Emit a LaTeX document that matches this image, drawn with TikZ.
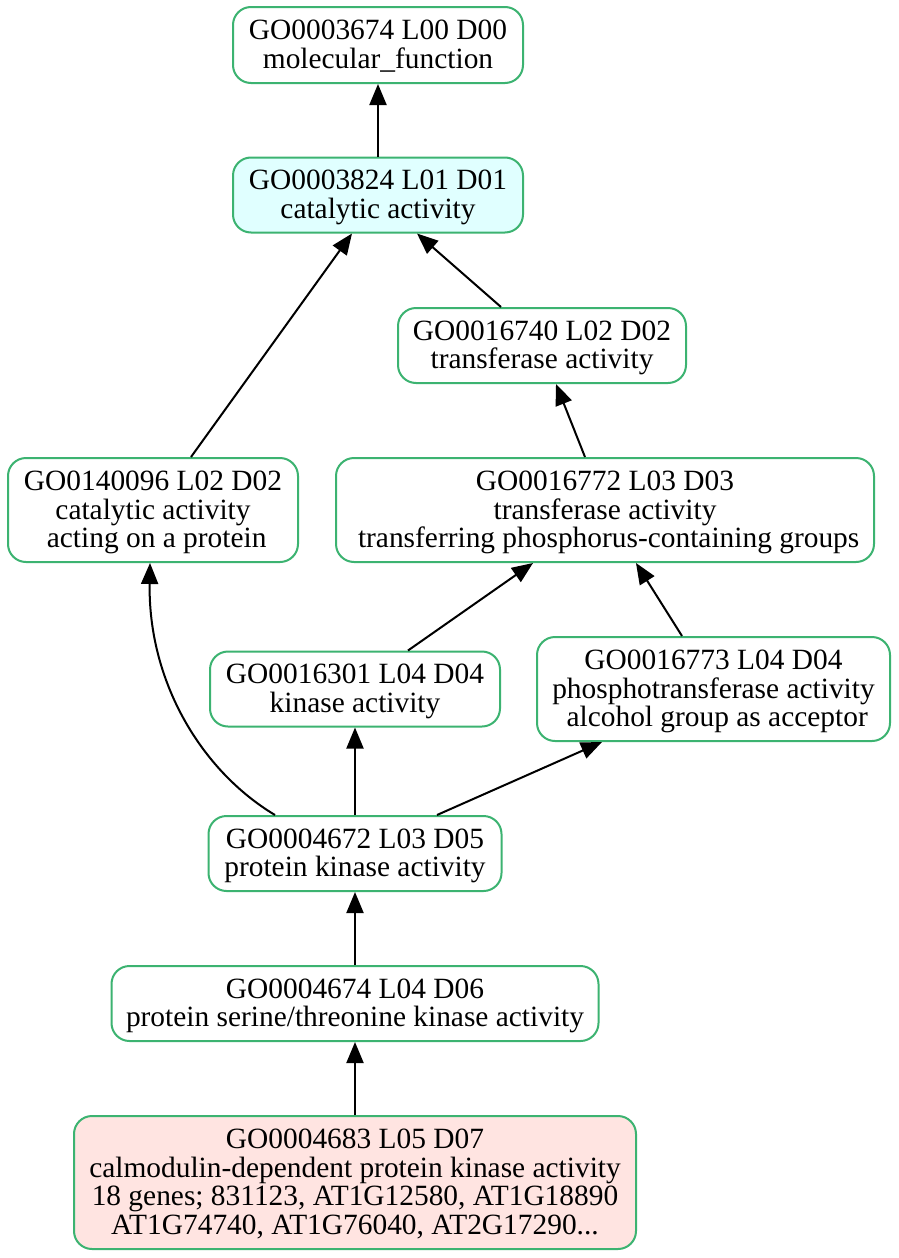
\documentclass[tikz,border=0pt]{standalone}
\usepackage{fontspec}
\setmainfont{Liberation Serif}
\usetikzlibrary{arrows.meta}
\definecolor{goborder}{HTML}{3CB371}
\definecolor{gocyan}{HTML}{E0FFFF}
\definecolor{gorose}{HTML}{FFE4E1}
% fixed struts so every label sits the same way in its box
\newcommand\firststrut{\rule{0pt}{25pt}}
\newcommand\laststrut{\rule[-7pt]{0pt}{7pt}}
\begin{document}
\begin{tikzpicture}[x=1pt,y=-1pt,
  term/.style={draw=goborder, line width=2pt, rounded corners=18pt, fill=white,
    align=center, inner sep=0pt, font=\fontsize{29.4}{28.6}\selectfont},
  isa/.style={line width=2pt, -{Triangle[length=21pt,width=17pt]}}]
\fill[white] (0,0) rectangle (898,1258);
\useasboundingbox (0,0) rectangle (898,1258);

% GO terms
\node[term, minimum width=290pt, minimum height=76pt] (n3674) at (378,45)
  {\firststrut GO0003674 L00 D00\\molecular\_function\laststrut};
\node[term, fill=gocyan, minimum width=290pt, minimum height=75pt] (n3824) at (378,195)
  {\firststrut GO0003824 L01 D01\\catalytic activity\laststrut};
\node[term, minimum width=288pt, minimum height=75pt] (n16740) at (542,345.5)
  {\firststrut GO0016740 L02 D02\\transferase activity\laststrut};
\node[term, minimum width=290pt, minimum height=104pt] (n140096) at (153,510)
  {\firststrut GO0140096 L02 D02\\catalytic activity\\\mbox{}\ acting on a protein\laststrut};
\node[term, minimum width=538pt, minimum height=104pt] (n16772) at (605,510)
  {\firststrut GO0016772 L03 D03\\transferase activity\\\mbox{}\ transferring phosphorus-containing groups\laststrut};
\node[term, minimum width=290pt, minimum height=75pt] (n16301) at (355,689)
  {\firststrut GO0016301 L04 D04\\kinase activity\laststrut};
\node[term, minimum width=353pt, minimum height=104pt] (n16773) at (713.5,689)
  {\firststrut GO0016773 L04 D04\\phosphotransferase activity\\\mbox{}\ alcohol group as acceptor\laststrut};
\node[term, minimum width=293pt, minimum height=75pt] (n4672) at (355,853.5)
  {\firststrut GO0004672 L03 D05\\protein kinase activity\laststrut};
\node[term, minimum width=487pt, minimum height=75pt] (n4674) at (355,1003.5)
  {\firststrut GO0004674 L04 D06\\protein serine/threonine kinase activity\laststrut};
\node[term, fill=gorose, minimum width=562pt, minimum height=133pt] (n4683) at (355,1182.5)
  {\firststrut GO0004683 L05 D07\\calmodulin-dependent protein kinase activity\\18 genes; 831123, AT1G12580, AT1G18890\\AT1G74740, AT1G76040, AT2G17290...\laststrut};

% is_a relations, child to parent
\draw[isa] (n3824.north) -- (n3674.south);
\draw[isa] ([xshift=-41pt]n16740.north) -- ([xshift=39pt]n3824.south);
\draw[isa] ([xshift=38pt]n140096.north) -- ([xshift=-26pt]n3824.south);
\draw[isa] ([xshift=-20pt]n16772.north) -- ([xshift=14pt]n16740.south);
\draw[isa] ([xshift=53pt]n16301.north) -- ([xshift=-72pt]n16772.south);
\draw[isa] ([xshift=-31.5pt]n16773.north) -- ([xshift=31pt]n16772.south);
\draw[isa] ([xshift=-80pt]n4672.north) .. controls (200,770) and (148,680) .. ([xshift=-3pt]n140096.south);
\draw[isa] (n4672.north) -- (n16301.south);
\draw[isa] ([xshift=82pt]n4672.north) -- ([xshift=-111.5pt]n16773.south);
\draw[isa] (n4674.north) -- (n4672.south);
\draw[isa] (n4683.north) -- (n4674.south);
\end{tikzpicture}
\end{document}
